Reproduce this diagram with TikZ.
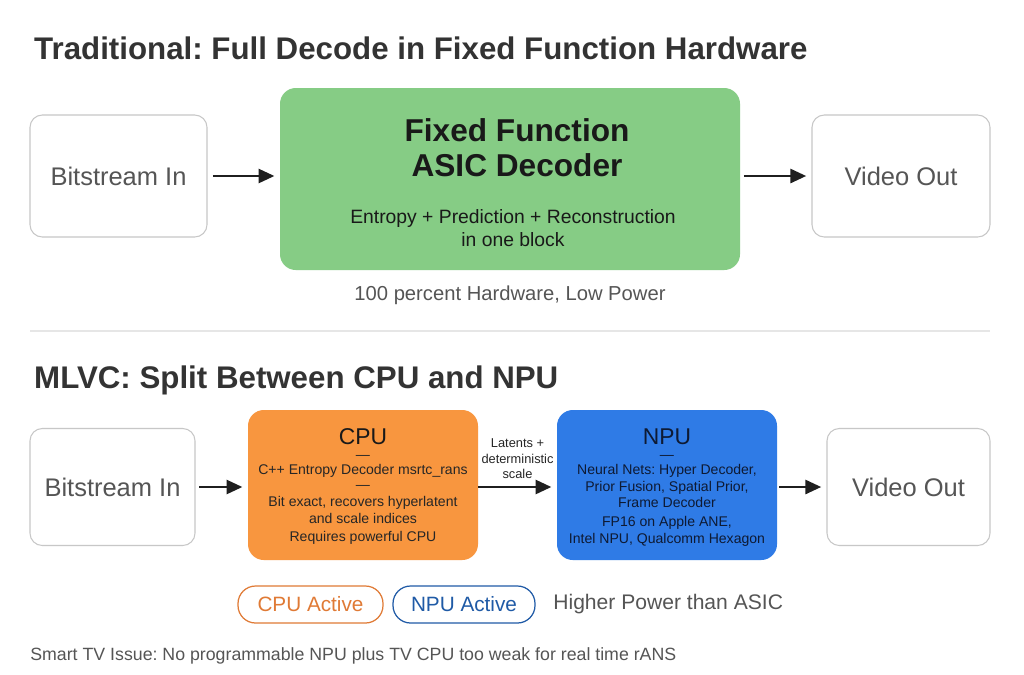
\documentclass[tikz,border=0pt]{standalone}
\usepackage{fontspec}
\setmainfont{Liberation Sans}
\usepackage{xcolor}
\usetikzlibrary{arrows.meta, positioning}
\definecolor{asicgreen}{HTML}{86CC85}
\definecolor{cpuorange}{HTML}{F8963F}
\definecolor{npublue}{HTML}{2F7BE6}
\definecolor{legorange}{HTML}{E07A35}
\definecolor{legblue}{HTML}{1F5AA6}
\definecolor{txtgrey}{HTML}{555555}
\definecolor{rulegrey}{HTML}{E6E6E6}
\definecolor{npuink}{HTML}{0E1A33}
\frenchspacing

\newcommand{\fsz}[1]{\fontsize{#1}{\fpeval{1.2*#1}}\selectfont}

\tikzset{
  iobox/.style={draw=black!22, line width=0.6pt, fill=white, rounded corners=7pt,
    inner sep=0pt, text=txtgrey, font=\fsz{14.5}},
  unitbox/.style={rounded corners=9pt, inner sep=0pt},
  flow/.style={-{Triangle[length=9pt, width=8pt]}, line width=1.4pt, black!88},
  heading/.style={anchor=west, font=\bfseries\fsz{17.8}, text=black!80},
  unithead/.style={font=\fsz{13}},
  unittxt/.style={font=\fsz{8}, align=center},
  pill/.style={rounded corners=10pt, line width=0.7pt, inner sep=0pt,
    minimum height={37*0.02cm}, font=\fsz{11.8}},
  note/.style={font=\fsz{#1}, text=txtgrey},
}

\begin{document}
\begin{tikzpicture}[x=0.02cm, y=-0.02cm]
  \useasboundingbox[fill=white] (0,0) rectangle (1024,674);

  % Traditional path
  \node[heading] (titleA) at (28,48) {Traditional: Full Decode in Fixed Function Hardware};

  \node[iobox, minimum width={177*0.02cm}, minimum height={122*0.02cm}]
    (binA) at (118.5,176) {Bitstream In};
  \node[unitbox, fill=asicgreen, minimum width={460*0.02cm}, minimum height={182*0.02cm}]
    (asic) at (510,179) {};
  \node[iobox, minimum width={178*0.02cm}, minimum height={122*0.02cm}]
    (voutA) at (901,176) {Video Out};

  \node[font=\bfseries\fontsize{18}{20}\selectfont, align=center, text=black!90, inner sep=0pt]
    (asichd) at (517,148) {Fixed Function\\ASIC Decoder};
  \node[font=\fsz{11}, align=center, text=black!90, inner sep=0pt]
    (asictxt) at (513,228) {Entropy + Prediction + Reconstruction\\in one block};
  \node[note=11.5, inner sep=0pt] (hwnote) at (510,295) {100 percent Hardware, Low Power};

  \draw[flow, shorten <=3pt, shorten >=3pt] (binA) -- (binA -| asic.west);
  \draw[flow, shorten <=2pt, shorten >=3pt] (asic.east |- voutA) -- (voutA);

  % divider
  \draw[rulegrey, line width=0.8pt] (30,331) -- (990,331);

  % MLVC path
  \node[heading] (titleB) at (28,380) {MLVC: Split Between CPU and NPU};

  \node[iobox, minimum width={165*0.02cm}, minimum height={117*0.02cm}]
    (binB) at (112.5,487) {Bitstream In};
  \node[unitbox, fill=cpuorange, minimum width={230*0.02cm}, minimum height={150*0.02cm}]
    (cpu) at (363,485) {};
  \node[unitbox, fill=npublue, minimum width={220*0.02cm}, minimum height={150*0.02cm}]
    (npu) at (667,485) {};
  \node[iobox, minimum width={163*0.02cm}, minimum height={117*0.02cm}]
    (voutB) at (908.5,487) {Video Out};

  % CPU contents
  \node[unithead, text=black!90] (cpuhd) at (363,437) {CPU};
  \node[unittxt, text=black!85] (cpusep1) at (363,457) {---};
  \node[unittxt, text=black!85] (cpuent) at (363,471) {C++ Entropy Decoder msrtc\_rans};
  \node[unittxt, text=black!85] (cpusep2) at (363,487) {---};
  \node[unittxt, text=black!85] (cpubit) at (363,510) {Bit exact, recovers hyperlatent\\and scale indices};
  \node[unittxt, text=black!85] (cpureq) at (363,538) {Requires powerful CPU};

  % NPU contents
  \node[unithead, text=npuink] (npuhd) at (667,437) {NPU};
  \node[unittxt, text=npuink] (npusep) at (667,457) {---};
  \node[unittxt, text=npuink] (npunet) at (667,486) {Neural Nets: Hyper Decoder,\\Prior Fusion, Spatial Prior,\\Frame Decoder};
  \node[unittxt, text=npuink] (npufp) at (667,531) {FP16 on Apple ANE,\\Intel NPU, Qualcomm Hexagon};

  \draw[flow, shorten <=2pt, shorten >=3pt] (binB) -- (binB -| cpu.west);
  \draw[flow, shorten >=3pt] (cpu.east |- binB) -- node[above=4pt, font=\fsz{7.3}, align=center,
    text=black!85, inner sep=0pt] (latent) {Latents +\\deterministic\\scale} (npu.west |- binB);
  \draw[flow, shorten <=1pt, shorten >=3pt] (npu.east |- voutB) -- (voutB);

  % legend
  \node[pill, draw=legorange, text=legorange, minimum width={145*0.02cm}]
    (legcpu) at (310.5,604.5) {CPU Active};
  \node[pill, draw=legblue, text=legblue, minimum width={142*0.02cm}]
    (legnpu) at (464,604.5) {NPU Active};
  \node[note=12, anchor=west, inner sep=0pt] (legpow) at (553,604.5) {Higher Power than ASIC};

  \node[note=10.1, anchor=west, inner sep=0pt] (tvnote) at (30,656)
    {Smart TV Issue: No programmable NPU plus TV CPU too weak for real time rANS};
\end{tikzpicture}
\end{document}
